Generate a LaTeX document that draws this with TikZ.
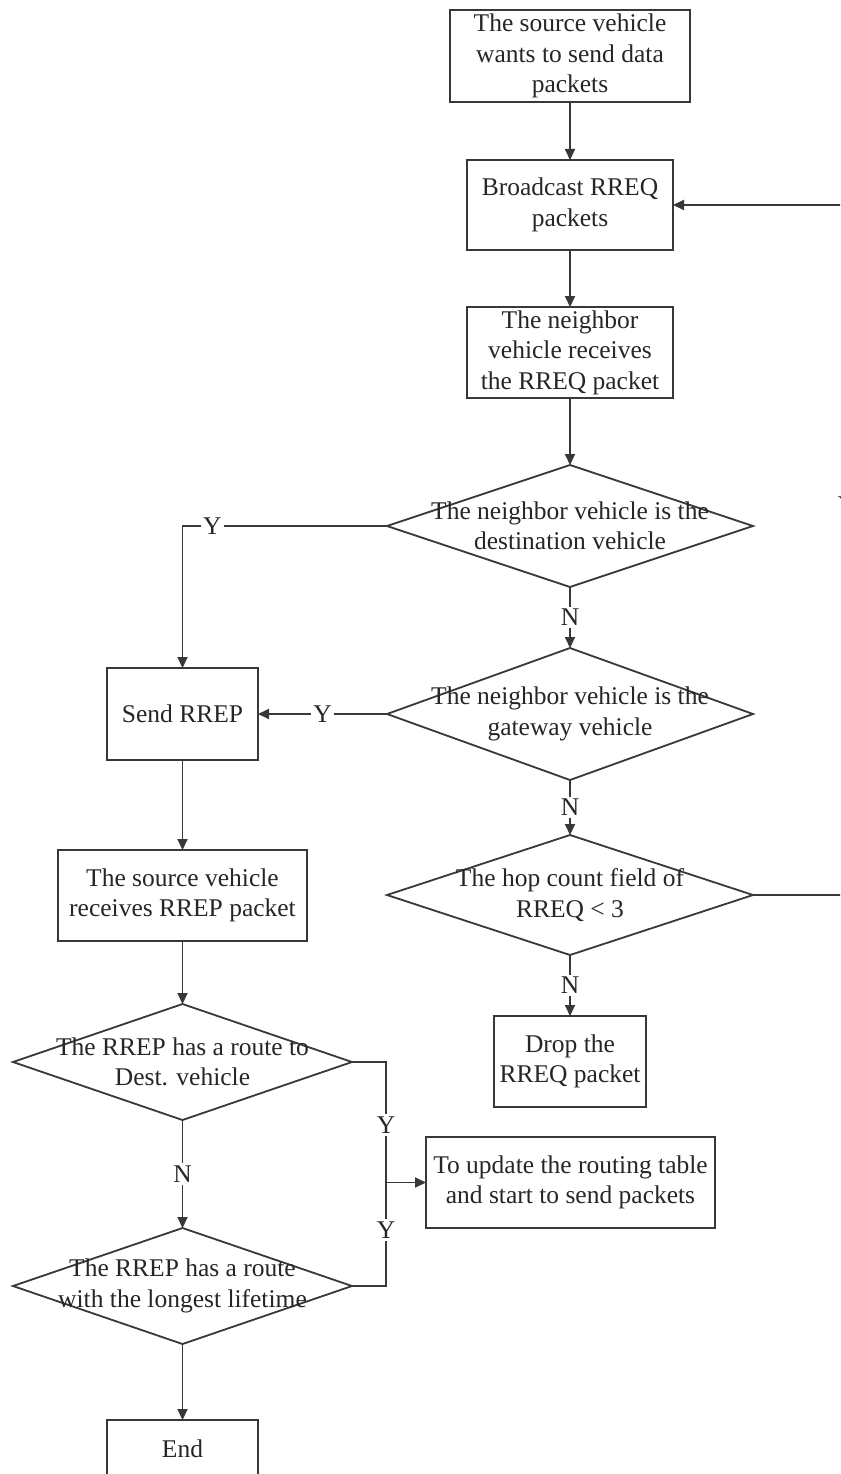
\documentclass[tikz,border=0pt]{standalone}
\usepackage{fontspec}
\setmainfont{Liberation Serif}
\usetikzlibrary{shapes.geometric,arrows.meta}
\begin{document}
\begin{tikzpicture}[x=1pt,y=-1pt,
  every node/.style={font=\fontsize{25.5}{30.5}\selectfont, text=black!85},
  box/.style={draw=black!78, line width=1.8pt, align=center, inner sep=0pt, outer sep=0pt},
  decision/.style={diamond, draw=black!78, line width=1.8pt, inner sep=0pt, outer sep=0pt},
  dtext/.style={align=center, inner sep=0pt},
  flow/.style={draw=black!78, line width=1.8pt},
  arr/.style={flow, -{Triangle[length=11pt,width=10pt]}},
  lab/.style={fill=white, inner sep=2.5pt}
]
% page frame
\useasboundingbox (0,0) rectangle (840,1474);
\fill[white] (0,0) rectangle (840,1474);
\clip (0,0) rectangle (840,1474);

% main column: route request handling
\node[box, minimum width=240pt, minimum height=92pt] (src) at (570,56)
  {The source vehicle\\wants to send data\\packets};
\node[box, minimum width=206pt, minimum height=90pt] (bc) at (570,205)
  {Broadcast RREQ\\packets};
\node[box, minimum width=206pt, minimum height=91pt] (nb) at (570,352.5)
  {The neighbor\\vehicle receives\\the RREQ packet};
\node[decision, minimum width=366pt, minimum height=122pt] (d1) at (570,526) {};
\node[dtext] (d1t) at (d1) {The neighbor vehicle is the\\destination vehicle};
\node[decision, minimum width=366pt, minimum height=132pt] (d2) at (570,714) {};
\node[dtext] (d2t) at (d2) {The neighbor vehicle is the\\gateway vehicle};
\node[decision, minimum width=366pt, minimum height=120pt] (d3) at (570,895) {};
\node[dtext] (d3t) at (d3) {The hop count field of\\RREQ < 3};
\node[box, minimum width=152pt, minimum height=91pt] (drop) at (570,1061.5)
  {Drop the\\RREQ packet};
\node[box, minimum width=289pt, minimum height=91pt] (upd) at (570.5,1182.5)
  {To update the routing table\\and start to send packets};

% left column: route reply handling
\node[box, minimum width=151pt, minimum height=92pt] (send) at (182.5,714) {Send RREP};
\node[box, minimum width=249pt, minimum height=91pt] (recv) at (182.5,895.5)
  {The source vehicle\\receives RREP packet};
\node[decision, minimum width=339pt, minimum height=116pt] (d4) at (182.5,1062) {};
\node[dtext] (d4t) at (d4) {The RREP has a route to\\Dest. vehicle};
\node[decision, minimum width=339pt, minimum height=116pt] (d5) at (182.5,1286) {};
\node[dtext] (d5t) at (d5) {The RREP has a route\\with the longest lifetime};
\node[box, minimum width=151pt, minimum height=57pt] (end) at (182.5,1448.5) {End};

% straight flow
\draw[arr] (src) -- (bc);
\draw[arr] (bc) -- (nb);
\draw[arr] (nb) -- (d1.north);
\draw[arr] (d1.south) -- node[lab]{N} (d2.north);
\draw[arr] (d2.south) -- node[lab]{N} (d3.north);
\draw[arr] (d3.south) -- node[lab]{N} (drop.north);
\draw[arr] (d1.west) -| node[lab,pos=0.427]{Y} (send.north);
\draw[arr] (d2.west) -- node[lab,pos=0.5]{Y} (send.east);
\draw[arr] (send) -- (recv);
\draw[arr] (recv) -- (d4.north);
\draw[arr] (d4.south) -- node[lab]{N} (d5.north);
\draw[arr] (d5.south) -- (end.north);

% both "Y" branches join before the routing-table update
\path (upd.west) -- ++(-40,0) coordinate (merge);
\draw[arr] (d4.east) -| node[lab,pos=0.76]{Y} (merge) -- (upd.west);
\draw[flow] (d5.east) -| node[lab,pos=0.77]{Y} (merge);

% retry loop back to the broadcast
\coordinate (loop) at (847,0);
\draw[arr] (d3.east) -- (d3.east -| loop) -- node[lab,pos=0.565]{Y} (bc.east -| loop) -- (bc.east);
\end{tikzpicture}
\end{document}
